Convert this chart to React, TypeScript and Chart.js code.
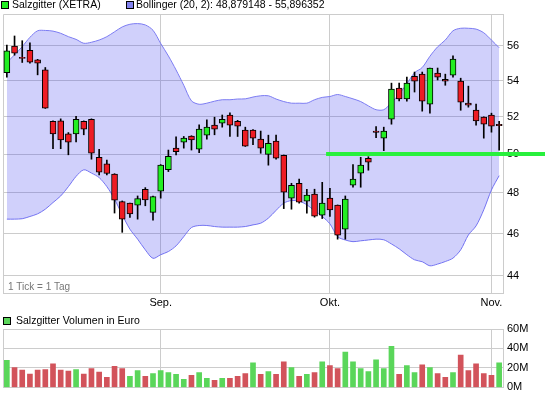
import React, { useEffect, useRef } from 'react';
import { Chart, registerables } from 'chart.js';

Chart.register(...registerables);

// ---- data ----
const dates = [
  '04.08.', '05.08.', '06.08.', '09.08.', '10.08.', '11.08.', '12.08.', '13.08.', '16.08.', '17.08.',
  '18.08.', '19.08.', '20.08.', '23.08.', '24.08.', '25.08.', '26.08.', '27.08.', '30.08.', '31.08.',
  '01.09.', '02.09.', '03.09.', '06.09.', '07.09.', '08.09.', '09.09.', '10.09.', '13.09.', '14.09.',
  '15.09.', '16.09.', '17.09.', '20.09.', '21.09.', '22.09.', '23.09.', '24.09.', '27.09.', '28.09.',
  '29.09.', '30.09.', '01.10.', '04.10.', '05.10.', '06.10.', '07.10.', '08.10.', '11.10.', '12.10.',
  '13.10.', '14.10.', '15.10.', '18.10.', '19.10.', '20.10.', '21.10.', '22.10.', '25.10.', '26.10.',
  '27.10.', '28.10.', '29.10.', '01.11.', '02.11.',
];

const opens = [
  54.46, 56.0, 55.34, 55.75, 55.19, 54.62, 51.75, 51.77, 51.07, 51.07,
  51.75, 51.86, 49.83, 49.49, 48.96, 47.57, 47.49, 47.39, 48.19, 47.03,
  48.09, 49.19, 50.32, 50.63, 50.95, 50.25, 51.0, 51.54, 51.65, 52.08,
  51.75, 51.27, 51.27, 50.79, 49.98, 50.68, 49.93, 47.74, 48.49, 47.59,
  47.94, 46.9, 47.74, 47.39, 46.21, 48.39, 49.01, 49.78, 51.22, 50.84,
  51.86, 53.58, 52.97, 54.25, 54.37, 52.69, 54.43, 54.08, 54.31, 53.97,
  52.74, 52.36, 51.97, 52.08, 51.58,
];
const highs = [
  56.06, 56.59, 56.31, 56.18, 55.22, 54.75, 51.77, 51.88, 51.14, 52.02,
  51.77, 51.88, 50.25, 49.69, 48.98, 47.6, 47.5, 47.85, 48.27, 47.85,
  49.45, 50.21, 50.91, 50.93, 50.97, 51.56, 51.82, 51.97, 52.09, 52.21,
  51.8, 51.43, 51.3, 51.22, 51.0, 51.0, 49.95, 48.49, 48.7, 48.19,
  48.19, 48.54, 48.24, 47.4, 47.85, 49.45, 49.83, 49.86, 51.46, 51.43,
  53.86, 53.86, 54.2, 54.49, 54.49, 54.72, 54.72, 54.37, 55.42, 54.14,
  53.69, 52.69, 51.99, 52.19, 51.75,
];
const lows = [
  54.2, 55.46, 55.04, 55.0, 54.33, 52.45, 50.28, 50.28, 49.96, 50.64,
  51.02, 49.73, 48.92, 48.92, 47.0, 46.06, 46.78, 46.7, 47.36, 46.65,
  47.74, 49.09, 49.95, 50.31, 50.21, 50.07, 50.79, 51.02, 51.43, 50.93,
  50.93, 50.4, 50.5, 50.04, 49.42, 49.73, 47.22, 47.19, 47.49, 47.0,
  46.8, 46.73, 46.83, 45.73, 45.73, 48.29, 48.29, 49.16, 50.87, 50.18,
  51.59, 52.87, 52.85, 53.36, 52.3, 52.19, 54.04, 53.74, 54.2, 52.35,
  52.52, 51.54, 50.84, 51.16, 50.21,
];
const closes = [
  55.71, 55.58, 55.27, 55.06, 55.0, 52.47, 51.06, 50.74, 50.63, 51.86,
  51.32, 50.04, 49.06, 48.99, 47.64, 46.7, 46.96, 47.72, 47.65, 47.82,
  49.42, 49.88, 50.12, 50.84, 50.74, 51.32, 51.43, 51.32, 51.86, 51.54,
  51.49, 50.41, 50.84, 50.31, 50.57, 49.78, 48.04, 48.39, 47.54, 47.89,
  46.85, 47.49, 47.15, 45.92, 47.69, 48.7, 49.42, 49.57, 51.15, 51.22,
  53.52, 52.97, 53.86, 53.97, 52.85, 54.72, 54.2, 53.97, 55.23, 52.8,
  52.63, 51.77, 51.59, 51.49, 51.51,
];

const bollUpper = [
  55.04, 55.48, 55.96, 56.51, 56.9, 56.92, 56.88, 56.75, 56.55, 56.39,
  56.16, 56.22, 56.35, 56.55, 56.84, 57.13, 57.29, 57.33, 57.25, 56.93,
  56.15, 55.42, 54.61, 53.74, 52.87, 52.68, 52.74, 52.85, 52.93, 52.93,
  52.97, 52.98, 53.08, 53.15, 53.15, 52.97, 52.83, 52.74, 52.74, 52.74,
  52.93, 53.06, 53.11, 53.22, 53.11, 52.98, 52.83, 52.59, 52.38, 52.38,
  52.76, 53.24, 53.82, 54.45, 54.75, 55.4, 55.95, 56.35, 56.9, 57.05,
  57.05, 57.0, 56.78, 56.35, 55.896352,
];
const bollLower = [
  46.7, 46.7, 46.72, 46.83, 46.96, 47.19, 47.52, 47.85, 48.32, 48.84,
  49.18, 49.01, 48.78, 48.32, 47.69, 46.91, 46.21, 45.73, 45.22, 44.82,
  44.99, 45.14, 45.41, 45.85, 46.29, 46.39, 46.39, 46.34, 46.31, 46.31,
  46.31, 46.34, 46.42, 46.5, 46.75, 47.13, 47.49, 47.62, 47.59, 47.41,
  47.11, 46.83, 46.47, 45.85, 45.69, 45.61, 45.65, 45.69, 45.73, 45.7,
  45.5, 45.27, 44.99, 44.75, 44.66, 44.47, 44.55, 44.67, 44.83, 45.22,
  45.93, 46.37, 47.16, 48.15, 48.879148,
];

// volume in millions of euro
const volumesM = [
  27.7, 20.3, 17.7, 13.7, 17.7, 18.3, 24.3, 17.7, 16.7, 18.3,
  13.7, 19.3, 15.7, 10.3, 21.7, 19.3, 11.3, 17.3, 11.3, 14.3,
  17.3, 15.3, 13.3, 8.3, 12.3, 15.3, 9.3, 7.3, 9.3, 9.3,
  11.3, 14.3, 25.3, 13.3, 16.3, 13.3, 26.3, 20.3, 11.3, 13.3,
  15.3, 26.3, 22.3, 19.3, 36.3, 26.3, 19.3, 16.3, 28.3, 19.3,
  42.3, 13.3, 22.3, 15.3, 23.3, 20.3, 14.3, 10.3, 15.3, 33.3,
  17.3, 24.3, 14.3, 12.3, 25.3,
];

const monthStarts = ['01.09.', '01.10.', '01.11.'];
const monthLabels = ['Sep.', 'Okt.', 'Nov.'];
const priceTicks = [44, 46, 48, 50, 52, 54, 56];
const priceMin = 43.22;
const priceMax = 57.91;
const volumeTicks = [0, 20, 40, 60];
const supportLevel = 50;
const supportFrom = '01.10.';

const seriesName = 'Salzgitter (XETRA)';
const bollName = 'Bollinger (20, 2): 48,879148 - 55,896352';
const volumeName = 'Salzgitter Volumen in Euro';
const footnote = '1 Tick = 1 Tag';

// ---- styles ----
const FONT = "'Liberation Sans', Arial, sans-serif";
const UP = '#22ee22';
const DOWN = '#ee1c24';
const VOL_UP = '#5ad65a';
const VOL_DOWN = '#d2535b';
const GRID = '#cccccc';
const BAND_LINE = '#7c7cf2';
const BAND_FILL = 'rgba(60,60,240,0.24)';
const SUPPORT = 'rgb(40,240,60)';

const monthLabelAt = (i: number) => {
  const k = monthStarts.indexOf(dates[i]);
  return k >= 0 ? monthLabels[k] : '';
};
const gridColorX = (ctx: any) => (monthLabelAt(ctx.index) ? GRID : 'rgba(0,0,0,0)');

function drawLegendItem(ctx: CanvasRenderingContext2D, x: number, y: number, color: string, text: string, textX: number) {
  ctx.save();
  ctx.fillStyle = color;
  ctx.fillRect(x, y, 8, 8);
  ctx.strokeStyle = '#000';
  ctx.lineWidth = 1;
  ctx.strokeRect(x + 0.5, y + 0.5, 7, 7);
  ctx.fillStyle = '#000';
  ctx.font = `10.5px ${FONT}`;
  ctx.textBaseline = 'middle';
  ctx.textAlign = 'left';
  ctx.fillText(text, textX, y + 4.5);
  ctx.restore();
}

export default function App() {
  const mainRef = useRef<HTMLCanvasElement>(null);
  const volRef = useRef<HTMLCanvasElement>(null);

  useEffect(() => {
    document.body.style.margin = '0';
    Chart.defaults.font.family = FONT;
    Chart.defaults.color = '#000';

    const bodyColors = opens.map((o, i) => (closes[i] >= o ? UP : DOWN));
    const volColors = closes.map((c, i) =>
      (i === 0 ? c >= opens[0] : c >= closes[i - 1]) ? VOL_UP : VOL_DOWN,
    );

    const mainPlugin = {
      id: 'mainDecor',
      beforeDatasetsDraw(chart: any) {
        const { ctx, chartArea: a } = chart;
        ctx.save();
        ctx.strokeStyle = GRID;
        ctx.lineWidth = 1;
        ctx.beginPath();
        ctx.moveTo(Math.round(a.left) + 0.5, Math.round(a.bottom));
        ctx.lineTo(Math.round(a.left) + 0.5, Math.round(a.top) + 0.5);
        ctx.lineTo(Math.round(a.right), Math.round(a.top) + 0.5);
        ctx.stroke();
        ctx.fillStyle = '#777';
        ctx.font = `10px ${FONT}`;
        ctx.textBaseline = 'middle';
        ctx.fillText(footnote, a.left + 5, a.bottom - 6);
        ctx.restore();
      },
      afterDraw(chart: any) {
        const { ctx } = chart;
        const x = chart.scales.x;
        const y = chart.scales.y;
        const idx = dates.indexOf(supportFrom);
        const half = (x.getPixelForValue(1) - x.getPixelForValue(0)) / 2;
        const x0 = x.getPixelForValue(idx) - half;
        const py = y.getPixelForValue(supportLevel);
        ctx.save();
        ctx.fillStyle = SUPPORT;
        ctx.fillRect(x0, Math.round(py) - 2, chart.width - x0, 4);
        ctx.restore();
        drawLegendItem(ctx, 1, 1, UP, seriesName, 12);
        drawLegendItem(ctx, 126, 1, '#8282ee', bollName, 136);
      },
    };

    const main = new Chart(mainRef.current as HTMLCanvasElement, {
      type: 'bar',
      data: {
        labels: dates,
        datasets: [
          {
            type: 'bar',
            label: 'body',
            data: opens.map((o, i) => [Math.min(o, closes[i]), Math.max(o, closes[i])]) as any,
            backgroundColor: bodyColors,
            borderColor: '#000',
            borderWidth: 1,
            borderSkipped: false,
            barThickness: 6,
            grouped: false,
            order: 0,
          },
          {
            type: 'bar',
            label: 'wick',
            data: lows.map((l, i) => [l, highs[i]]) as any,
            backgroundColor: '#000',
            borderWidth: 0,
            barThickness: 1,
            grouped: false,
            order: 1,
          },
          {
            type: 'line',
            label: 'upper',
            data: bollUpper,
            borderColor: BAND_LINE,
            borderWidth: 1,
            pointRadius: 0,
            tension: 0.3,
            fill: '+1',
            backgroundColor: BAND_FILL,
            order: 2,
          } as any,
          {
            type: 'line',
            label: 'lower',
            data: bollLower,
            borderColor: BAND_LINE,
            borderWidth: 1,
            pointRadius: 0,
            tension: 0.3,
            fill: false,
            order: 3,
          } as any,
        ],
      },
      options: {
        responsive: false,
        animation: false,
        events: [],
        layout: { padding: { left: 3, top: 14, right: 0, bottom: 0 } },
        plugins: { legend: { display: false }, tooltip: { enabled: false } },
        scales: {
          x: {
            type: 'category',
            offset: true,
            afterFit: (s: any) => {
              s.height = 17;
            },
            grid: { offset: false, drawTicks: false, color: gridColorX },
            border: { color: GRID },
            ticks: {
              autoSkip: false,
              maxRotation: 0,
              padding: 3,
              font: { size: 11 },
              color: '#000',
              callback: (_v: any, i: number) => monthLabelAt(i),
            },
          },
          y: {
            type: 'logarithmic',
            position: 'right',
            min: priceMin,
            max: priceMax,
            afterBuildTicks: (s: any) => {
              s.ticks = priceTicks.map((v) => ({ value: v }));
            },
            afterFit: (s: any) => {
              s.width = 42;
            },
            grid: { color: GRID, drawTicks: false },
            border: { color: GRID },
            ticks: {
              padding: 4,
              font: { size: 11 },
              color: '#000',
              callback: (v: any) => String(v),
            },
          },
        },
      } as any,
      plugins: [mainPlugin],
    });

    const volPlugin = {
      id: 'volDecor',
      beforeDatasetsDraw(chart: any) {
        const { ctx, chartArea: a } = chart;
        ctx.save();
        ctx.strokeStyle = GRID;
        ctx.lineWidth = 1;
        ctx.beginPath();
        ctx.moveTo(Math.round(a.left) + 0.5, Math.round(a.bottom));
        ctx.lineTo(Math.round(a.left) + 0.5, Math.round(a.top));
        ctx.stroke();
        ctx.restore();
      },
      afterDraw(chart: any) {
        drawLegendItem(chart.ctx, 3, 7, VOL_UP, volumeName, 16);
      },
    };

    const vol = new Chart(volRef.current as HTMLCanvasElement, {
      type: 'bar',
      data: {
        labels: dates,
        datasets: [
          {
            label: volumeName,
            data: volumesM,
            backgroundColor: volColors,
            borderWidth: 0,
            barThickness: 5,
          },
        ],
      },
      options: {
        responsive: false,
        animation: false,
        events: [],
        layout: { padding: { left: 3, top: 19, right: 0, bottom: 0 } },
        plugins: { legend: { display: false }, tooltip: { enabled: false } },
        scales: {
          x: {
            type: 'category',
            offset: true,
            afterFit: (s: any) => {
              s.height = 9;
            },
            grid: { offset: false, drawTicks: false, color: gridColorX },
            border: { display: false },
            ticks: { display: false, autoSkip: false },
          },
          y: {
            position: 'right',
            min: 0,
            max: 60,
            afterBuildTicks: (s: any) => {
              s.ticks = volumeTicks.map((v) => ({ value: v }));
            },
            afterFit: (s: any) => {
              s.width = 42;
            },
            grid: { color: GRID, drawTicks: false },
            border: { color: GRID },
            ticks: {
              padding: 4,
              font: { size: 11 },
              color: '#000',
              callback: (v: any) => `${v}M`,
            },
          },
        },
      } as any,
      plugins: [volPlugin],
    });

    return () => {
      main.destroy();
      vol.destroy();
    };
  }, []);

  return (
    <div style={{ position: 'absolute', left: 0, top: 0, width: 545, height: 398, background: '#fff' }}>
      <canvas ref={mainRef} width={545} height={310} style={{ position: 'absolute', left: 0, top: 0 }} />
      <canvas ref={volRef} width={545} height={88} style={{ position: 'absolute', left: 0, top: 310 }} />
    </div>
  );
}
